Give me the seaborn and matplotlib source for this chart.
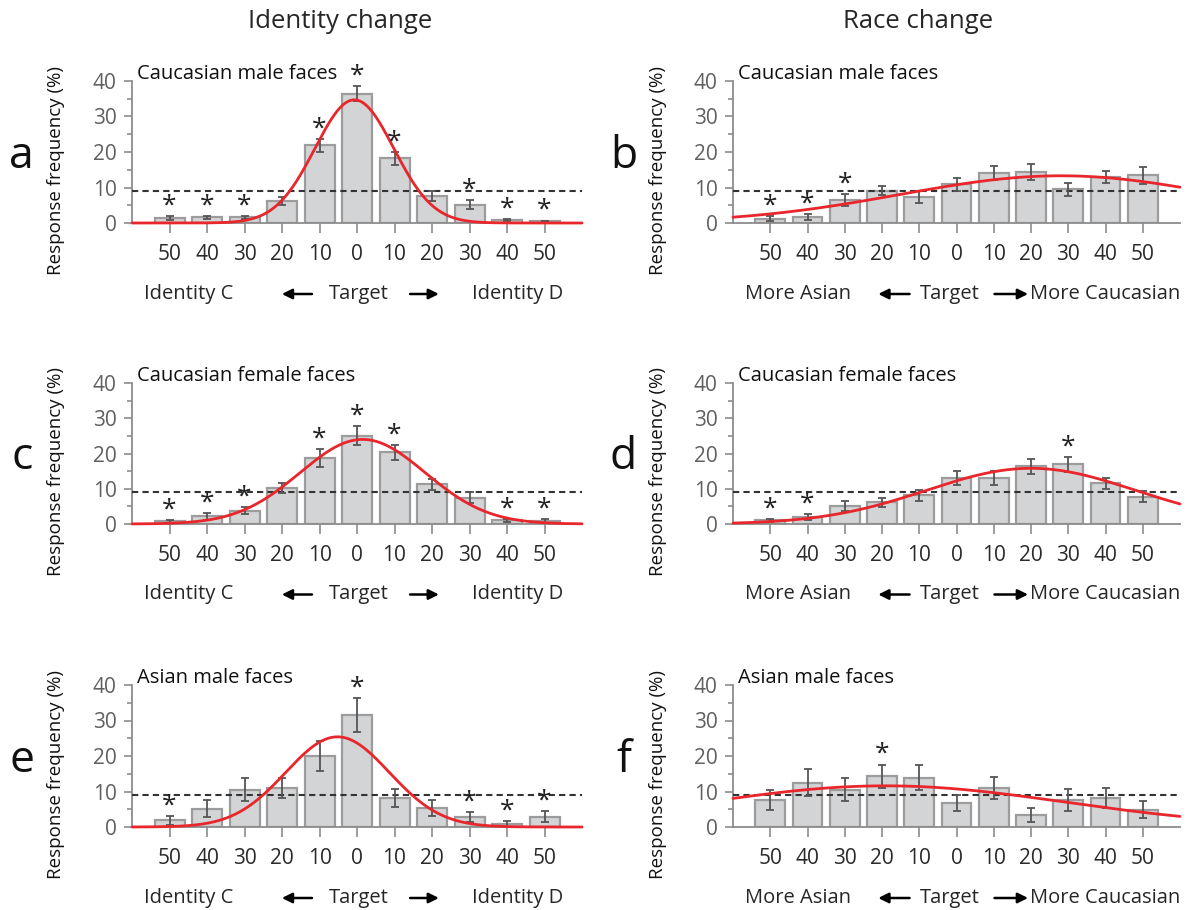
import numpy as np
import pandas as pd
import matplotlib
matplotlib.use("Agg")
import matplotlib.pyplot as plt
import seaborn as sns
from matplotlib.ticker import MultipleLocator

# ---------------- data ----------------
step_labels = ["50", "40", "30", "20", "10", "0", "10", "20", "30", "40", "50"]
chance_level = 100 / 11

a_vals = [1.4, 1.6, 1.6, 6.2, 21.9, 36.4, 18.2, 7.6, 5.2, 0.8, 0.5]
a_err = [0.5, 0.5, 0.5, 1.1, 1.8, 2.1, 1.9, 1.5, 1.2, 0.3, 0.2]
a_sig = [0, 1, 2, 4, 5, 6, 8, 9, 10]
a_fit = [34.7, 4.93, 1.05]   # amplitude, centre (step index), width

b_vals = [1.2, 1.7, 6.5, 9.1, 7.3, 10.9, 14.1, 14.4, 9.5, 13.0, 13.4]
b_err = [0.7, 0.9, 1.6, 1.3, 1.6, 1.9, 2.0, 2.3, 1.9, 1.7, 2.5]
b_sig = [0, 1, 2]
b_fit = [13.3, 7.8, 4.3]

c_vals = [0.8, 2.2, 3.8, 10.2, 18.7, 25.1, 20.3, 11.3, 7.5, 1.0, 0.9]
c_err = [0.4, 1.0, 0.9, 1.4, 2.5, 2.7, 2.1, 1.6, 1.5, 0.4, 0.5]
c_sig = [0, 1, 2, 4, 5, 6, 9, 10]
c_fit = [24.0, 5.15, 1.67]

d_vals = [1.0, 2.0, 5.0, 6.1, 8.1, 13.1, 13.1, 16.4, 16.9, 11.5, 7.8]
d_err = [0.4, 0.8, 1.4, 1.2, 1.6, 2.0, 1.9, 2.1, 2.1, 1.5, 1.6]
d_sig = [0, 1, 8]
d_fit = [15.8, 7.0, 2.8]

e_vals = [1.9, 5.2, 10.5, 11.0, 20.0, 31.5, 8.2, 5.3, 2.8, 0.9, 2.9]
e_err = [1.3, 2.3, 3.2, 2.8, 4.1, 4.7, 2.5, 2.3, 1.5, 0.8, 1.5]
e_sig = [0, 5, 8, 9, 10]
e_fit = [25.4, 4.48, 1.38]

f_vals = [7.6, 12.5, 10.5, 14.3, 13.9, 6.7, 11.0, 3.4, 7.7, 8.2, 4.8]
f_err = [2.7, 3.8, 3.3, 3.3, 3.5, 2.2, 3.2, 2.0, 3.1, 2.9, 2.4]
f_sig = [3]
f_fit = [11.6, 3.1, 4.8]

panel_letters = ["a", "b", "c", "d", "e", "f"]
panel_titles = ["Caucasian male faces", "Caucasian male faces",
                "Caucasian female faces", "Caucasian female faces",
                "Asian male faces", "Asian male faces"]
column_titles = ["Identity change", "Race change"]
identity_ends = ["Identity C", "Identity D"]
race_ends = ["More Asian", "More Caucasian"]
center_label = "Target"

# ---------------- style ----------------
sns.set_style("ticks")
plt.rcParams["font.family"] = ["Open Sans", "DejaVu Sans"]

BAR_FILL = "#d3d4d6"
BAR_EDGE = "#9c9c9c"
GRAY_TXT = "#606060"
SPINE = "#8c8c8c"
RED = "#e8262b"

fig = plt.figure(figsize=(11.87, 9.10), dpi=100)

W, H = 1187, 910
col_left = [132, 733]
col_w = [450, 447]
row_top = [81, 383, 685]
row_bot = [223, 524, 827]

panels = [
    (a_vals, a_err, a_sig, a_fit),
    (b_vals, b_err, b_sig, b_fit),
    (c_vals, c_err, c_sig, c_fit),
    (d_vals, d_err, d_sig, d_fit),
    (e_vals, e_err, e_sig, e_fit),
    (f_vals, f_err, f_sig, f_fit),
]

LBL = 14.5

for k, (vals, errs, sig, fit) in enumerate(panels):
    r, c = divmod(k, 2)
    left = col_left[c] / W
    bottom = 1 - row_bot[r] / H
    height = (row_bot[r] - row_top[r]) / H
    ax = fig.add_axes([left, bottom, col_w[c] / W, height])

    df = pd.DataFrame({"step": list(range(len(vals))), "freq": vals, "sem": errs})
    sns.barplot(data=df, x="step", y="freq", ax=ax, color=BAR_FILL,
                edgecolor=BAR_EDGE, linewidth=1.6, width=0.8, saturation=1,
                errorbar=None, zorder=2)
    ax.errorbar(df["step"], df["freq"], yerr=df["sem"], fmt="none",
                ecolor="#555555", elinewidth=1.3, capsize=3, capthick=1.3, zorder=4)

    # chance level
    ax.axhline(chance_level, color="#333333", lw=1.5, ls=(0, (3, 2)), zorder=3)

    # gaussian fit
    amp, mu, sd = fit
    xs = np.linspace(-1, 11, 400)
    ax.plot(xs, amp * np.exp(-(xs - mu) ** 2 / (2 * sd ** 2)), color=RED, lw=2,
            zorder=5, clip_on=False)

    # significance stars
    for i in sig:
        ax.text(i, vals[i] + errs[i] + 2.8, "*", ha="center", va="center",
                fontsize=19, color="#222222", zorder=6, clip_on=False)

    ax.set_xlim(-1, 11)
    ax.set_ylim(0, 40)
    ax.set_yticks([0, 10, 20, 30, 40])
    ax.yaxis.set_minor_locator(MultipleLocator(5))
    ax.set_xticks(range(11))
    ax.set_xticklabels(step_labels)
    ax.tick_params(axis="y", which="major", length=6, width=1.2, color=SPINE,
                   labelcolor=GRAY_TXT, labelsize=15, pad=5)
    ax.tick_params(axis="y", which="minor", length=3.5, width=1.2, color=SPINE)
    ax.tick_params(axis="x", which="major", length=7, width=1.2, color=SPINE,
                   labelcolor="#2a2a2a", labelsize=15, pad=8)
    for s in ["top", "right"]:
        ax.spines[s].set_visible(False)
    for s in ["left", "bottom"]:
        ax.spines[s].set_color(SPINE)
        ax.spines[s].set_linewidth(1.3)

    ax.set_xlabel("")
    ax.set_ylabel("Response frequency (%)", fontsize=13.5, color="#111111")
    ax.yaxis.set_label_coords(-0.148, 0.37)

    ax.text(0.012, 1.05, panel_titles[k], transform=ax.transAxes, ha="left",
            va="center", fontsize=LBL, color="#111111")
    ax.text(-0.245, 0.47, panel_letters[k], transform=ax.transAxes, ha="center",
            va="center", fontsize=32, color="#111111")

    # direction labels
    ylab = -0.5
    if c == 0:
        ax.text(0.127, ylab, identity_ends[0], transform=ax.transAxes,
                ha="center", va="center", fontsize=LBL)
        ax.text(0.504, ylab, center_label, transform=ax.transAxes,
                ha="center", va="center", fontsize=LBL)
        ax.text(0.858, ylab, identity_ends[1], transform=ax.transAxes,
                ha="center", va="center", fontsize=LBL)
        arrows = [(0.40, 0.333), (0.618, 0.682)]
    else:
        ax.text(0.146, ylab, race_ends[0], transform=ax.transAxes,
                ha="center", va="center", fontsize=LBL)
        ax.text(0.484, ylab, center_label, transform=ax.transAxes,
                ha="center", va="center", fontsize=LBL)
        ax.text(1.0, ylab, race_ends[1], transform=ax.transAxes,
                ha="right", va="center", fontsize=LBL)
        arrows = [(0.395, 0.325), (0.585, 0.66)]
    for x0, x1 in arrows:
        ax.annotate("", xy=(x1, ylab), xytext=(x0, ylab), xycoords="axes fraction",
                    textcoords="axes fraction",
                    arrowprops=dict(arrowstyle="-|>", color="black", lw=1.8,
                                    mutation_scale=15, shrinkA=0, shrinkB=0))

fig.text(340 / W, 1 - 22 / H, column_titles[0], ha="center", va="center", fontsize=18.5)
fig.text(918 / W, 1 - 22 / H, column_titles[1], ha="center", va="center", fontsize=18.5)

fig.savefig("out.png", dpi=100)
